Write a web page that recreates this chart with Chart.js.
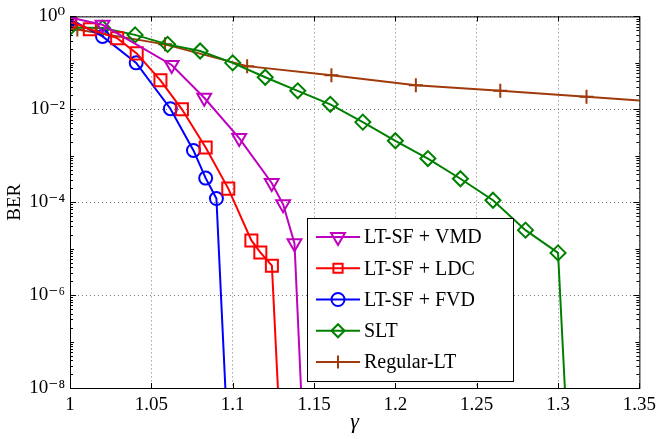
<!DOCTYPE html>
<html>
<head>
<meta charset="utf-8">
<script src="https://cdn.jsdelivr.net/npm/chart.js@4/dist/chart.umd.min.js"></script>
<style>
  body { margin: 0; background: #fff; }
</style>
</head>
<body>
<canvas id="berChart" width="662" height="439"></canvas>
<script>
// values (BER vs gamma)
const seriesNames = ['LT-SF + VMD', 'LT-SF + LDC', 'LT-SF + FVD', 'SLT', 'Regular-LT'];

const vmdGamma = [1.0, 1.02, 1.0625, 1.0825, 1.104, 1.124, 1.131, 1.138, 1.142];
const vmdBer   = [0.95, 0.66, 0.09, 0.0177, 2.4e-3, 2.6e-4, 9e-5, 1.3e-5, 1e-8];

const ldcGamma = [1.0, 1.0122, 1.029, 1.041, 1.0556, 1.0688, 1.0834, 1.0973, 1.1115, 1.117, 1.1241, 1.1278];
const ldcBer   = [0.78, 0.53, 0.34, 0.16, 0.042, 0.01, 1.5e-3, 1.96e-4, 1.5e-5, 8.3e-6, 4.3e-6, 1e-8];

const fvdGamma = [1.0, 1.02, 1.0407, 1.0617, 1.0759, 1.0834, 1.09, 1.0955];
const fvdBer   = [0.86, 0.37, 0.1, 0.0103, 1.3e-3, 3.3e-4, 1.2e-4, 1e-8];

const sltGamma = [1.0, 1.02, 1.04, 1.06, 1.08, 1.1, 1.12, 1.14, 1.16, 1.18, 1.2, 1.22, 1.24, 1.26, 1.28, 1.3, 1.3042];
const sltBer   = [0.58, 0.56, 0.4, 0.25, 0.18, 0.1, 0.049, 0.025, 0.0128, 5.3e-3, 2.1e-3, 8.7e-4, 3.2e-4, 1.1e-4, 2.5e-5, 8.1e-6, 1e-8];

const regGamma = [1.0, 1.0045, 1.0584, 1.1089, 1.1607, 1.2126, 1.2645, 1.3175, 1.35];
const regBer   = [0.66, 0.52, 0.25, 0.085, 0.054, 0.033, 0.025, 0.0186, 0.0155];

const xTickValues = [1, 1.05, 1.1, 1.15, 1.2, 1.25, 1.3, 1.35];
const yTickValues = [1e-8, 1e-6, 1e-4, 1e-2, 1];

const colors = ['#bf00bf', '#ff0000', '#0000ff', '#008000', '#a03a0a'];
const serif = "'Liberation Serif', 'DejaVu Serif', serif";
const SUP = { '0': '\u2070', '1': '\u00b9', '2': '\u00b2', '3': '\u00b3', '4': '\u2074', '5': '\u2075',
              '6': '\u2076', '7': '\u2077', '8': '\u2078', '9': '\u2079', '-': '\u207b' };

function pts(xs, ys) {
  return xs.map((x, i) => ({ x: x, y: ys[i] }));
}

// markers are hidden where a curve just runs off the bottom / edges
function markerRadius(size, hideEnds) {
  return ctx => {
    const n = ctx.dataset.data.length;
    if (ctx.raw.y <= 1e-8) return 0;
    if (hideEnds && (ctx.dataIndex === 0 || ctx.dataIndex === n - 1)) return 0;
    return size;
  };
}

function series(i, data, style, size, rotation, hideEnds) {
  return {
    label: seriesNames[i],
    data: data,
    borderColor: colors[i],
    backgroundColor: colors[i],
    borderWidth: 2,
    pointStyle: style,
    pointRotation: rotation,
    pointRadius: markerRadius(size, hideEnds),
    pointHoverRadius: markerRadius(size, hideEnds),
    pointBorderColor: colors[i],
    pointBackgroundColor: 'rgba(0,0,0,0)',
    pointBorderWidth: 2,
    tension: 0,
    fill: false
  };
}

const datasets = [
  series(0, pts(vmdGamma, vmdBer), 'triangle', 8, 180, false),
  series(1, pts(ldcGamma, ldcBer), 'rect', 8.5, 0, false),
  series(2, pts(fvdGamma, fvdBer), 'circle', 6.5, 0, false),
  series(3, pts(sltGamma, sltBer), 'rectRot', 7.5, 0, false),
  series(4, pts(regGamma, regBer), 'cross', 7, 0, true)
];

const frame = {
  id: 'frame',
  afterDraw(chart) {
    const { ctx, chartArea: a, scales } = chart;
    ctx.save();
    ctx.strokeStyle = '#000';
    ctx.lineWidth = 1;
    ctx.setLineDash([]);
    ctx.strokeRect(a.left + 0.5, a.top + 0.5, a.right - a.left, a.bottom - a.top);

    // inward tick marks
    ctx.beginPath();
    xTickValues.forEach(v => {
      const x = Math.round(scales.x.getPixelForValue(v)) + 0.5;
      ctx.moveTo(x, a.bottom); ctx.lineTo(x, a.bottom - 5);
      ctx.moveTo(x, a.top); ctx.lineTo(x, a.top + 5);
    });
    for (let k = -8; k <= 0; k++) {
      for (let m = 1; m <= 9; m++) {
        const v = m * Math.pow(10, k);
        if (v > 1) break;
        const y = Math.round(scales.y.getPixelForValue(v)) + 0.5;
        const len = m === 1 ? (k % 2 === 0 ? 6 : 4) : 3;
        ctx.moveTo(a.left, y); ctx.lineTo(a.left + len, y);
        ctx.moveTo(a.right, y); ctx.lineTo(a.right - len, y);
      }
    }
    ctx.stroke();

    // legend box
    const bx = 307, by = 218, bw = 206, bh = 163;
    ctx.fillStyle = '#fff';
    ctx.fillRect(bx, by, bw, bh);
    ctx.strokeRect(bx + 0.5, by + 0.5, bw, bh);
    chart.data.datasets.forEach((ds, i) => {
      const y = by + 19 + i * 31.25;
      ctx.strokeStyle = ds.borderColor;
      ctx.lineWidth = 2;
      ctx.beginPath();
      ctx.moveTo(bx + 9, y); ctx.lineTo(bx + 53, y);
      ctx.stroke();
      ctx.fillStyle = 'rgba(0,0,0,0)';
      Chart.helpers.drawPoint(ctx, {
        pointStyle: ds.pointStyle, rotation: ds.pointRotation,
        radius: ds.pointStyle === 'triangle' ? 8 : 6.5, borderWidth: 2
      }, bx + 31, y);
      ctx.fillStyle = '#000';
      ctx.font = '20px ' + serif;
      ctx.textBaseline = 'middle';
      ctx.textAlign = 'left';
      ctx.fillText(ds.label, bx + 57, y + 1);
    });
    ctx.restore();
  }
};

new Chart(document.getElementById('berChart'), {
  type: 'line',
  data: { datasets: datasets },
  options: {
    responsive: false,
    animation: false,
    layout: { padding: { top: 15, right: 19, left: 0, bottom: 0 } },
    plugins: { legend: { display: false }, tooltip: { enabled: false } },
    scales: {
      x: {
        type: 'linear',
        min: 1,
        max: 1.35,
        afterBuildTicks: s => { s.ticks = xTickValues.map(v => ({ value: v })); },
        afterFit: s => { s.height = 51; },
        ticks: {
          color: '#000',
          font: { family: serif, size: 19 },
          padding: 6,
          maxRotation: 0,
          callback: v => String(+v.toFixed(2))
        },
        grid: { color: '#7a7a7a', lineWidth: 1, drawTicks: false },
        border: { display: false, dash: [1, 3] },
        title: { display: true, text: 'γ', color: '#000', font: { family: serif, size: 22, style: 'italic' }, padding: { top: 0, bottom: 4 } }
      },
      y: {
        type: 'logarithmic',
        min: 1e-8,
        max: 1,
        afterBuildTicks: s => { s.ticks = yTickValues.map(v => ({ value: v })); },
        afterFit: s => { s.width = 70; },
        ticks: {
          color: '#000',
          font: { family: serif, size: 19 },
          padding: 5,
          callback: v => '10' + String(Math.round(Math.log10(v))).split('').map(c => SUP[c]).join('')
        },
        grid: { color: '#7a7a7a', lineWidth: 1, drawTicks: false },
        border: { display: false, dash: [1, 3] },
        title: { display: true, text: 'BER', color: '#000', font: { family: serif, size: 19 }, padding: { top: 4, bottom: 0 } }
      }
    }
  },
  plugins: [frame]
});
</script>
</body>
</html>
